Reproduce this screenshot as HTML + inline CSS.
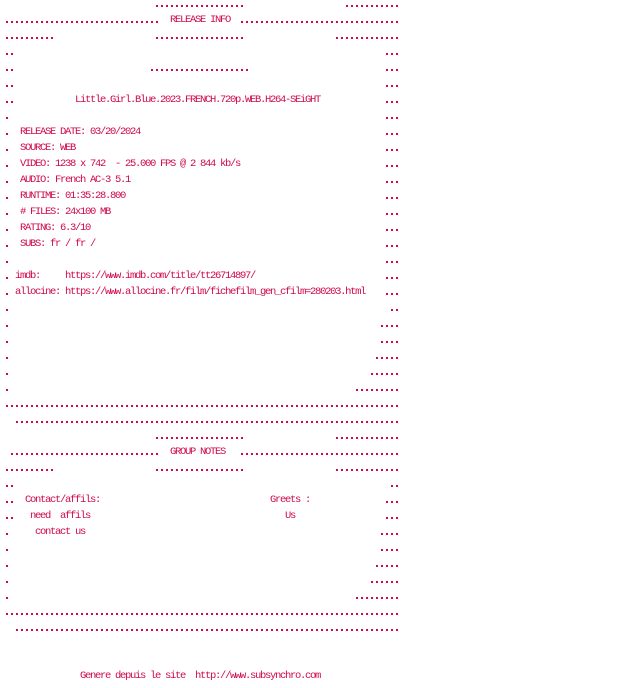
<!DOCTYPE html>
<html><head><meta charset="utf-8"><style>
html,body{margin:0;padding:0;background:#fff;width:640px;height:688px;overflow:hidden;position:relative}
.t{position:absolute;white-space:pre;font-family:"Liberation Mono",monospace;font-size:10.5px;letter-spacing:-1.3px;line-height:16px;color:#cf0a4b}
.d{position:absolute;height:2px;background-image:linear-gradient(to right,#cf0a4b 0,#cf0a4b 2px,transparent 2px);background-size:5px 2px;background-repeat:repeat-x}
</style></head><body>
<div id="c"></div>
<script>
var segs=[
[0,30,18],[0,68,11],
[1,0,31],[1,33,"RELEASE INFO"],[1,47,32],
[2,0,10],[2,30,18],[2,66,13],
[3,0,2],[3,76,3],
[4,0,2],[4,29,20],[4,76,3],
[5,0,2],[5,76,3],
[6,0,2],[6,14,"Little.Girl.Blue.2023.FRENCH.720p.WEB.H264-SEiGHT"],[6,76,3],
[7,0,1],[7,76,3],
[8,3,"RELEASE DATE: 03/20/2024"],[9,3,"SOURCE: WEB"],[10,3,"VIDEO: 1238 x 742  - 25.000 FPS @ 2 844 kb/s"],
[11,3,"AUDIO: French AC-3 5.1"],[12,3,"RUNTIME: 01:35:28.800"],[13,3,"# FILES: 24x100 MB"],
[14,3,"RATING: 6.3/10"],[15,3,"SUBS: fr / fr /"],
[16,0,1],[16,76,3],
[17,0,1],[17,2,"imdb:     https://www.imdb.com/title/tt26714897/"],[17,76,3],
[18,0,1],[18,2,"allocine: https://www.allocine.fr/film/fichefilm_gen_cfilm=280203.html"],[18,76,3],
[19,0,1],[19,77,2],
[20,0,1],[20,75,4],[21,0,1],[21,75,4],
[22,0,1],[22,74,5],[23,0,1],[23,73,6],[24,0,1],[24,70,9],
[25,0,79],[26,2,77],
[27,30,18],[27,66,13],
[28,1,30],[28,33,"GROUP NOTES"],[28,47,32],
[29,0,10],[29,30,18],[29,66,13],
[30,0,2],[30,77,2],
[31,0,2],[31,4,"Contact/affils:"],[31,53,"Greets :"],[31,76,3],
[32,0,2],[32,5,"need  affils"],[32,56,"Us"],[32,76,3],
[33,0,1],[33,6,"contact us"],[33,75,4],
[34,0,1],[34,75,4],[35,0,1],[35,74,5],[36,0,1],[36,73,6],[37,0,1],[37,70,9],
[38,0,79],[39,2,77],
[42,15,"Genere depuis le site  http://www.subsynchro.com"]
];
for(var r=8;r<=15;r++){segs.push([r,0,1]);segs.push([r,76,3]);}
var h="";
segs.forEach(function(s){
 var x=5+s[1]*5;
 if(typeof s[2]==="number"){
  h+='<div class="d" style="left:'+(x+1)+'px;top:'+(5+16*s[0])+'px;width:'+(s[2]*5)+'px"></div>';
 }else{
  h+='<div class="t" style="left:'+x+'px;top:'+(16*s[0]-4.5)+'px">'+s[2]+'</div>';
 }
});
document.getElementById("c").innerHTML=h;
</script>
</body></html>
